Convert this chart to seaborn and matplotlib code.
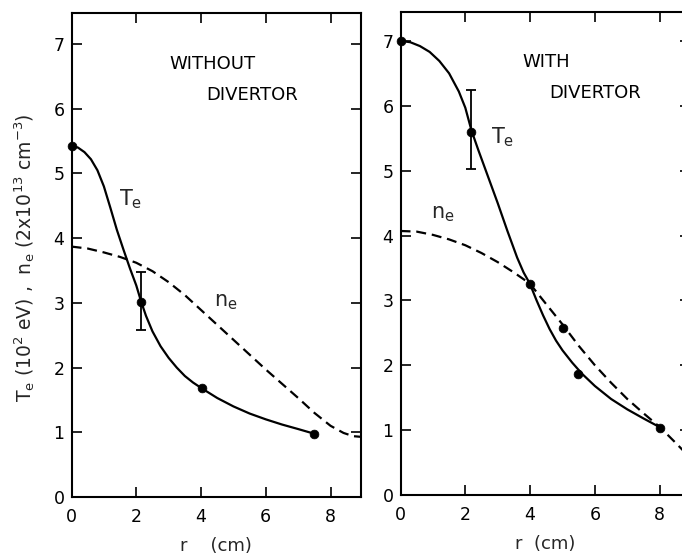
import numpy as np
import pandas as pd
import matplotlib
matplotlib.use("Agg")
import matplotlib.pyplot as plt
import seaborn as sns

# ---------------- data ----------------
# Left panel: WITHOUT DIVERTOR
L_te_curve_r = [0.00, 0.20, 0.40, 0.60, 0.80, 1.00, 1.20, 1.40, 1.60, 1.80, 2.00, 2.15, 2.30, 2.50, 2.75,
                3.00, 3.25, 3.50, 3.75, 4.02, 4.50, 5.00, 5.50, 6.00, 6.50, 7.00, 7.48]
L_te_curve_v = [5.43, 5.40, 5.33, 5.22, 5.05, 4.80, 4.47, 4.13, 3.83, 3.54, 3.27, 3.02, 2.80, 2.56, 2.33,
                2.15, 2.00, 1.87, 1.77, 1.68, 1.53, 1.40, 1.29, 1.20, 1.12, 1.05, 0.98]
L_ne_curve_r = [0.00, 0.50, 1.00, 1.50, 2.00, 2.50, 3.00, 3.50, 4.00, 4.50, 5.00, 5.50, 6.00, 6.50,
                7.00, 7.50, 8.00, 8.40, 8.70, 8.93]
L_ne_curve_v = [3.87, 3.84, 3.78, 3.71, 3.62, 3.49, 3.32, 3.12, 2.89, 2.66, 2.43, 2.20, 1.97, 1.75,
                1.53, 1.30, 1.10, 0.99, 0.94, 0.93]
L_pts_r = [0.00, 2.15, 4.02, 7.48]
L_pts_v = [5.43, 3.02, 1.68, 0.98]
L_err_r = 2.15
L_err_lo, L_err_hi = 2.58, 3.48

# Right panel: WITH DIVERTOR
R_te_curve_r = [0.00, 0.30, 0.60, 0.90, 1.20, 1.50, 1.80, 2.00, 2.19, 2.40, 2.70, 3.00, 3.30, 3.60,
                3.80, 3.99, 4.20, 4.40, 4.60, 4.80, 5.00, 5.30, 5.60, 6.00, 6.50, 7.00, 7.50, 8.02]
R_te_curve_v = [7.00, 6.98, 6.92, 6.83, 6.69, 6.50, 6.22, 5.97, 5.62, 5.32, 4.91, 4.50, 4.07, 3.66,
                3.43, 3.26, 3.00, 2.77, 2.56, 2.38, 2.23, 2.04, 1.87, 1.68, 1.48, 1.32, 1.18, 1.04]
R_ne_curve_r = [0.00, 0.50, 1.00, 1.50, 2.00, 2.50, 3.00, 3.50, 3.99, 4.50, 5.00, 5.50, 6.00, 6.50,
                7.00, 7.50, 8.02, 8.50, 8.93]
R_ne_curve_v = [4.07, 4.06, 4.01, 3.94, 3.85, 3.73, 3.59, 3.43, 3.26, 2.94, 2.63, 2.30, 2.00, 1.73,
                1.48, 1.26, 1.04, 0.80, 0.58]
R_pts_r = [0.00, 2.19, 3.99, 5.02, 5.49, 8.02]
R_pts_v = [7.00, 5.60, 3.26, 2.58, 1.87, 1.04]
R_err_r = 2.19
R_err_lo, R_err_hi = 5.03, 6.25

x_ticks = [0, 2, 4, 6, 8]
y_ticks = [0, 1, 2, 3, 4, 5, 6, 7]

# ---------------- style ----------------
sns.set_theme(style="ticks")
plt.rcParams["font.family"] = ["DejaVu Sans"]
plt.rcParams["mathtext.default"] = "regular"

W, H = 682, 555
fig = plt.figure(figsize=(W / 100, H / 100), dpi=100)
fig.patch.set_facecolor("white")

axL = fig.add_axes([71.5 / W, (H - 497) / H, (360.7 - 71.5) / W, (497 - 13) / H])
axR = fig.add_axes([400.5 / W, (H - 495) / H, (8.93 * 32.4) / W, (495 - 11.7) / H])

dash = (0, (4.5, 2.6))


def draw(ax, te_r, te_v, ne_r, ne_v, pr, pv, er, elo, ehi, ytop):
    ax.set_facecolor("white")
    sns.lineplot(x=te_r, y=te_v, ax=ax, sort=False, estimator=None,
                 color="black", linewidth=1.6)
    sns.lineplot(x=ne_r, y=ne_v, ax=ax, sort=False, estimator=None,
                 color="black", linewidth=1.6, linestyle=dash)
    sns.scatterplot(x=pr, y=pv, ax=ax, s=40, color="black",
                    edgecolor="black", zorder=5, clip_on=False)
    yc = [v for r, v in zip(pr, pv) if r == er][0]
    ax.errorbar([er], [yc], yerr=[[yc - elo], [ehi - yc]], fmt="none",
                ecolor="black", elinewidth=1.3, capsize=3.8, capthick=1.3)
    ax.set_xlim(0, 8.93)
    ax.set_ylim(0, ytop)
    ax.set_xticks(x_ticks)
    ax.set_yticks(y_ticks)
    ax.tick_params(axis="both", direction="in", length=7.5, width=1.2,
                   top=True, right=True, labelsize=12.5, colors="black")
    ax.tick_params(axis="y", pad=5)
    ax.tick_params(axis="x", pad=8)
    for s in ax.spines.values():
        s.set_visible(True)
        s.set_linewidth(1.5)
        s.set_color("black")
    ax.grid(False)


draw(axL, L_te_curve_r, L_te_curve_v, L_ne_curve_r, L_ne_curve_v,
     L_pts_r, L_pts_v, L_err_r, L_err_lo, L_err_hi, 7.48)
draw(axR, R_te_curve_r, R_te_curve_v, R_ne_curve_r, R_ne_curve_v,
     R_pts_r, R_pts_v, R_err_r, R_err_lo, R_err_hi, 7.45)

axL.set_xlabel("r    (cm)", fontsize=13, labelpad=8)
axR.set_xlabel("r  (cm)", fontsize=13, labelpad=8)
axL.set_ylabel("")
axR.set_ylabel("")

tkw = dict(fontsize=13, color="black", ha="center", va="center")
axL.text(4.34, 6.69, "WITHOUT", **tkw)
axL.text(5.57, 6.21, "DIVERTOR", **tkw)
axL.text(1.84, 4.60, "$T_e$", fontsize=15, ha="center", va="center")
axL.text(4.77, 3.01, "$n_e$", fontsize=15, ha="center", va="center")

axR.text(4.50, 6.68, "WITH", **tkw)
axR.text(6.00, 6.19, "DIVERTOR", **tkw)
axR.text(3.14, 5.52, "$T_e$", fontsize=15, ha="center", va="center")
axR.text(1.30, 4.33, "$n_e$", fontsize=15, ha="center", va="center")

fig.text(25 / W, (H - 258) / H,
         "$T_e$ (10$^2$ eV) ,  $n_e$ (2x10$^{13}$ cm$^{-3}$)",
         rotation=90, fontsize=13.5, ha="center", va="center")

fig.savefig("out.png", dpi=100, facecolor="white")
